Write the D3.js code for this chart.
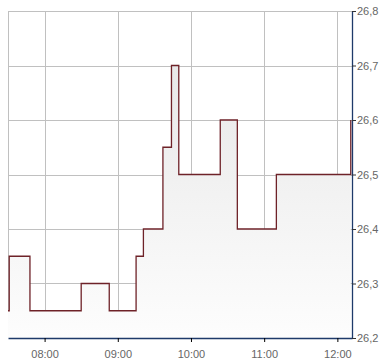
<!DOCTYPE html>
<html><head><meta charset="utf-8">
<script src="https://cdn.jsdelivr.net/npm/d3@7"></script>
<style>body{margin:0;background:#fff;} svg{display:block;}</style>
</head><body>
<svg id="c" width="390" height="364"></svg>
<script>
const times = ["07:30","07:31","07:48","08:30","08:53","09:15","09:21","09:37","09:44","09:50","10:24","10:38","11:10","12:11"];
const prices = [26.25,26.35,26.25,26.3,26.25,26.35,26.4,26.55,26.7,26.5,26.6,26.4,26.5,26.6];
const xTickLabels = ["08:00","09:00","10:00","11:00","12:00"];
const yTickValues = [26.2,26.3,26.4,26.5,26.6,26.7,26.8];
const xDomain = ["07:30","12:12"];
const yDomain = [26.2,26.8];

const parse = d3.timeParse("%H:%M");
const data = times.map((t,i)=>({t:parse(t), v:prices[i]}));
const L=8, R=352, T=11, B=338;
const svg = d3.select("#c");
const x = d3.scaleTime().domain(xDomain.map(parse)).range([L,R]);
const y = d3.scaleLinear().domain(yDomain).range([B,T]);

const defs = svg.append("defs");
const g = defs.append("linearGradient").attr("id","fg").attr("gradientUnits","userSpaceOnUse")
  .attr("x1",0).attr("x2",0).attr("y1",T).attr("y2",B);
g.append("stop").attr("offset","0").attr("stop-color","#e4e4e4");
g.append("stop").attr("offset","1").attr("stop-color","#fdfdfd");

// gridlines
const xt = xTickLabels.map(parse);
svg.append("g").selectAll("line").data(xt).join("line")
  .attr("x1",d=>Math.round(x(d))+0.5).attr("x2",d=>Math.round(x(d))+0.5).attr("y1",T).attr("y2",B)
  .attr("stroke","#c0c0c0").attr("stroke-width",1);
svg.append("g").selectAll("line").data(yTickValues.slice(1)).join("line")
  .attr("x1",L).attr("x2",R).attr("y1",d=>Math.round(y(d))+0.5).attr("y2",d=>Math.round(y(d))+0.5)
  .attr("stroke","#c0c0c0").attr("stroke-width",1);
svg.append("line").attr("x1",L+0.5).attr("x2",L+0.5).attr("y1",T).attr("y2",B).attr("stroke","#c0c0c0");
svg.append("line").attr("x1",L).attr("x2",R).attr("y1",T+0.5).attr("y2",T+0.5).attr("stroke","#c0c0c0");

// area + line
const area = d3.area().curve(d3.curveStepAfter).x(d=>x(d.t)).y0(B).y1(d=>y(d.v));
svg.append("path").datum(data).attr("d",area).attr("fill","url(#fg)");
const line = d3.line().curve(d3.curveStepAfter).x(d=>x(d.t)).y(d=>y(d.v));
svg.append("path").datum(data).attr("d",line).attr("fill","none").attr("stroke","#6e2228").attr("stroke-width",1.3);

// axes
const fmt = d3.timeFormat("%H:%M");
const xa = svg.append("g").attr("transform",`translate(0,${B})`)
  .call(d3.axisBottom(x).tickValues(xt).tickFormat(fmt).tickSize(4).tickSizeOuter(0));
xa.select(".domain").attr("stroke","#1e3a6a").attr("stroke-width",1.3);
xa.selectAll(".tick line").attr("stroke","#000");
xa.selectAll("text").attr("fill","#666").attr("font-family","'Liberation Sans',Arial,sans-serif").attr("font-size","11px").attr("dy","1.15em");

const ya = svg.append("g").attr("transform",`translate(${R},0)`)
  .call(d3.axisRight(y).tickValues(yTickValues).tickFormat(d=>d3.format(".1f")(d).replace(".",",")).tickSize(4).tickSizeOuter(0).tickPadding(1));
ya.select(".domain").attr("stroke","#1e3a6a").attr("stroke-width",1.3);
ya.selectAll(".tick line").attr("stroke","#333");
ya.selectAll("text").attr("fill","#666").attr("font-family","'Liberation Sans',Arial,sans-serif").attr("font-size","11px");
</script>
</body></html>
